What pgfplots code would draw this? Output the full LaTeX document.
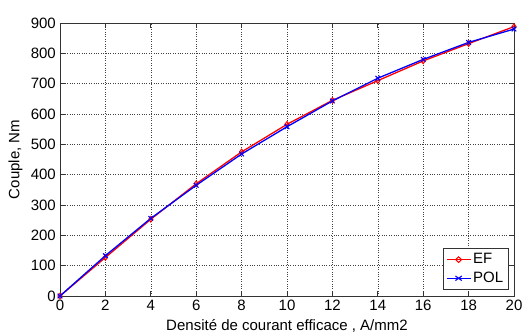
\documentclass[border=0pt]{standalone}
\usepackage{fontspec}
\setmainfont{Liberation Sans}
\usepackage{pgfplots}
\pgfplotsset{compat=1.18}
\begin{document}
\fontsize{15}{17}\selectfont
\begin{tikzpicture}
\begin{axis}[
  scale only axis,
  width=454pt, height=273pt,
  xmin=0, xmax=20, ymin=0, ymax=900,
  xtick={0,2,...,20}, ytick={0,100,...,900},
  grid=major,
  major grid style={black!75, dotted, line width=0.6pt},
  axis line style={black!80, line width=0.7pt},
  tick align=inside,
  tick style={black!80, line width=0.7pt},
  major tick length=5pt,
  xlabel={Densité de courant efficace , A/mm2},
  ylabel={Couple, Nm},
  xlabel style={yshift=2pt},
  ylabel style={yshift=-2pt},
  xticklabel style={yshift=1pt},
  yticklabel style={xshift=1pt},
  /pgf/number format/assume math mode=true,
  ticklabel style={font=\fontsize{15}{17}\selectfont},
  label style={font=\fontsize{15}{17}\selectfont},
  legend style={at={(0.988,0.022)}, anchor=south east, draw=black!80, line width=0.7pt, font=\fontsize{15}{17}\selectfont, row sep=2pt, inner sep=3pt},
  legend cell align=left,
  legend image post style={xscale=1.4},
]
\addplot[red, line width=1.3pt, mark=diamond, mark size=2.8pt, mark options={solid, line width=1pt}] coordinates {
(0,0) (2,127) (4,253) (6,370) (8,475) (10,566) (12,645) (14,710) (16,775) (18,832) (20,888)};
\addplot[blue, line width=1.3pt, mark=x, mark size=3.2pt, mark options={solid, line width=1.1pt}] coordinates {
(0,0) (2,133) (4,256) (6,365) (8,468) (10,558) (12,643) (14,718) (16,780) (18,836) (20,880)};
\legend{EF,POL}
\end{axis}
\pgfresetboundingbox
\useasboundingbox ([shift={(-60pt,-40pt)}]current axis.south west) rectangle ([shift={(9pt,23pt)}]current axis.north east);
\end{tikzpicture}
\end{document}
